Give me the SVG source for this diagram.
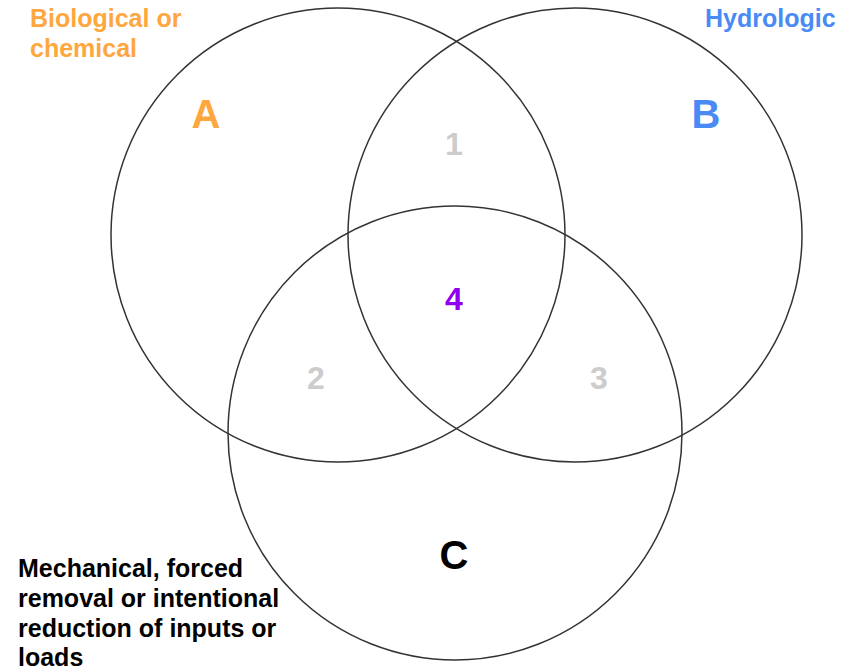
<svg xmlns="http://www.w3.org/2000/svg" width="864" height="670" viewBox="0 0 864 670">
<style>
.c{fill:none;stroke:#333;stroke-width:1.5}
.t{font-family:"Liberation Sans",Arial,sans-serif;font-weight:bold}
.big{font-size:40px;text-anchor:middle}
.num{font-size:32px;text-anchor:middle;fill:#cccccc}
.lbl{font-size:25px}
</style>
<rect width="864" height="670" fill="#fff"/>
<g id="connectors"></g>
<g id="circleA"><circle class="c" cx="338" cy="235" r="227"/></g>
<g id="circleB"><circle class="c" cx="575" cy="235" r="227"/></g>
<g id="circleC"><circle class="c" cx="455" cy="433" r="227"/></g>
<g id="labelA"><text class="t big" x="206" y="128" fill="#ffa73f">A</text></g>
<g id="labelB"><text class="t big" x="706" y="128" fill="#4a8af4">B</text></g>
<g id="labelC"><text class="t big" x="454" y="569" fill="#000">C</text></g>
<g id="n1"><text class="t num" x="454" y="155">1</text></g>
<g id="n2"><text class="t num" x="316" y="389">2</text></g>
<g id="n3"><text class="t num" x="599" y="389">3</text></g>
<g id="n4"><text class="t num" x="454" y="310" style="fill:#8f00f0">4</text></g>
<g id="textA"><text class="t lbl" fill="#ffa73f"><tspan x="30" y="27">Biological or</tspan><tspan x="30" y="57">chemical</tspan></text></g>
<g id="textB"><text class="t lbl" fill="#4a8af4" x="705" y="27">Hydrologic</text></g>
<g id="textC"><text class="t lbl" fill="#000"><tspan x="18" y="577">Mechanical, forced</tspan><tspan x="18" y="607">removal or intentional</tspan><tspan x="18" y="637">reduction of inputs or</tspan><tspan x="18" y="666">loads</tspan></text></g>
</svg>
